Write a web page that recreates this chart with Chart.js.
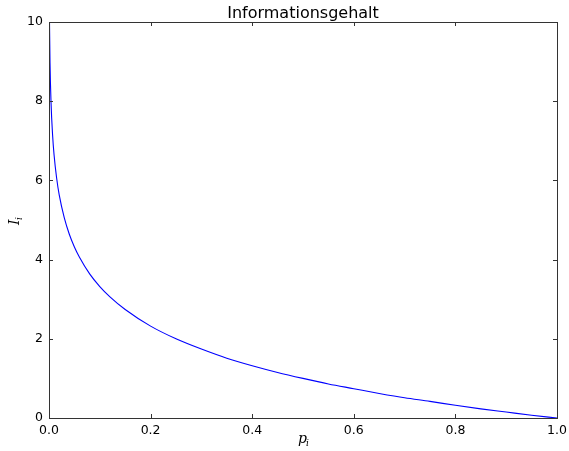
<!DOCTYPE html>
<html>
<head>
<meta charset="utf-8">
<script src="https://cdn.jsdelivr.net/npm/chart.js@4"></script>
<style>
  html, body { margin: 0; padding: 0; background: #fff; }
  #wrap { width: 569px; height: 451px; }
</style>
</head>
<body>
<div id="wrap"><canvas id="info-chart" width="569" height="451"></canvas></div>
<script>
// values
const pValues = [0.0005, 0.001, 0.002, 0.004, 0.007, 0.01, 0.015, 0.02, 0.03, 0.04, 0.05, 0.06, 0.08,
  0.1, 0.12, 0.15, 0.2, 0.25, 0.3, 0.35, 0.4, 0.45, 0.5, 0.55, 0.6, 0.65, 0.7, 0.75, 0.8, 0.85, 0.9, 0.95, 1.0];
const infoValues = [10.97, 9.97, 8.97, 7.97, 7.16, 6.64, 6.06, 5.64, 5.06, 4.64, 4.32, 4.06, 3.64,
  3.32, 3.06, 2.74, 2.32, 2.0, 1.74, 1.51, 1.32, 1.15, 1.0, 0.86, 0.74, 0.62, 0.51, 0.42, 0.32, 0.23, 0.15, 0.07, 0.0];
const xTicks = [0, 0.2, 0.4, 0.6, 0.8, 1.0];
const yTicks = [0, 2, 4, 6, 8, 10];

const tickFont = { family: 'DejaVu Sans', size: 12.5 };

// matplotlib-like frame, inward ticks and subscripted axis labels
const framePlugin = {
  id: 'frame',
  afterDraw(chart) {
    const ctx = chart.ctx;
    const a = chart.chartArea;
    const xs = chart.scales.x, ys = chart.scales.y;
    ctx.save();
    ctx.strokeStyle = '#333';
    ctx.lineWidth = 1;
    ctx.strokeRect(Math.round(a.left) + 0.5, Math.round(a.top) + 0.5,
      Math.round(a.right - a.left), Math.round(a.bottom - a.top));
    ctx.beginPath();
    xTicks.forEach(v => {
      const px = Math.round(xs.getPixelForValue(v)) + 0.5;
      ctx.moveTo(px, a.bottom); ctx.lineTo(px, a.bottom - 4);
      ctx.moveTo(px, a.top); ctx.lineTo(px, a.top + 4);
    });
    yTicks.forEach(v => {
      const py = Math.round(ys.getPixelForValue(v)) + 0.5;
      ctx.moveTo(a.left, py); ctx.lineTo(a.left + 4, py);
      ctx.moveTo(a.right, py); ctx.lineTo(a.right - 4, py);
    });
    ctx.stroke();

    // title
    ctx.fillStyle = '#000';
    ctx.font = '16px "DejaVu Sans"';
    ctx.textAlign = 'center';
    ctx.textBaseline = 'alphabetic';
    ctx.fillText('Informationsgehalt', (a.left + a.right) / 2, 18);

    // x label p_i
    const cx = (a.left + a.right) / 2;
    ctx.textAlign = 'left';
    ctx.font = 'italic 14px "DejaVu Serif"';
    ctx.fillText('p', cx - 5, 443);
    ctx.font = 'italic 9px "DejaVu Serif"';
    ctx.fillText('i', cx + 3, 446);

    // y label I_i (rotated)
    ctx.translate(19, (a.top + a.bottom) / 2);
    ctx.rotate(-Math.PI / 2);
    ctx.font = 'italic 14px "DejaVu Serif"';
    ctx.fillText('I', -5, 0);
    ctx.font = 'italic 9px "DejaVu Serif"';
    ctx.fillText('i', 0, 3);
    ctx.restore();
  }
};

const ctx = document.getElementById('info-chart').getContext('2d');
new Chart(ctx, {
  type: 'line',
  data: {
    datasets: [{
      data: pValues.map((p, i) => ({ x: p, y: infoValues[i] })),
      borderColor: '#0000ff',
      borderWidth: 1.1,
      pointRadius: 0,
      fill: false,
      cubicInterpolationMode: 'monotone',
    }],
  },
  options: {
    responsive: false,
    animation: false,
    layout: { padding: { top: 22, right: 12, left: 0, bottom: 0 } },
    plugins: { legend: { display: false }, tooltip: { enabled: false } },
    scales: {
      x: {
        type: 'linear', min: 0, max: 1,
        afterBuildTicks: s => { s.ticks = xTicks.map(v => ({ value: v })); },
        afterFit: s => { s.height = 33; s.paddingLeft = 0; s.paddingRight = 0; },
        grid: { display: false, drawTicks: false },
        border: { display: false },
        ticks: { font: tickFont, color: '#000', padding: 5, callback: v => v.toFixed(1) },
      },
      y: {
        type: 'linear', min: 0, max: 10,
        afterBuildTicks: s => { s.ticks = yTicks.map(v => ({ value: v })); },
        afterFit: s => { s.width = 49; s.paddingTop = 0; s.paddingBottom = 0; },
        grid: { display: false, drawTicks: false },
        border: { display: false },
        ticks: { font: tickFont, color: '#000', padding: 6, callback: v => String(v) },
      },
    },
  },
  plugins: [framePlugin],
});
</script>
</body>
</html>
